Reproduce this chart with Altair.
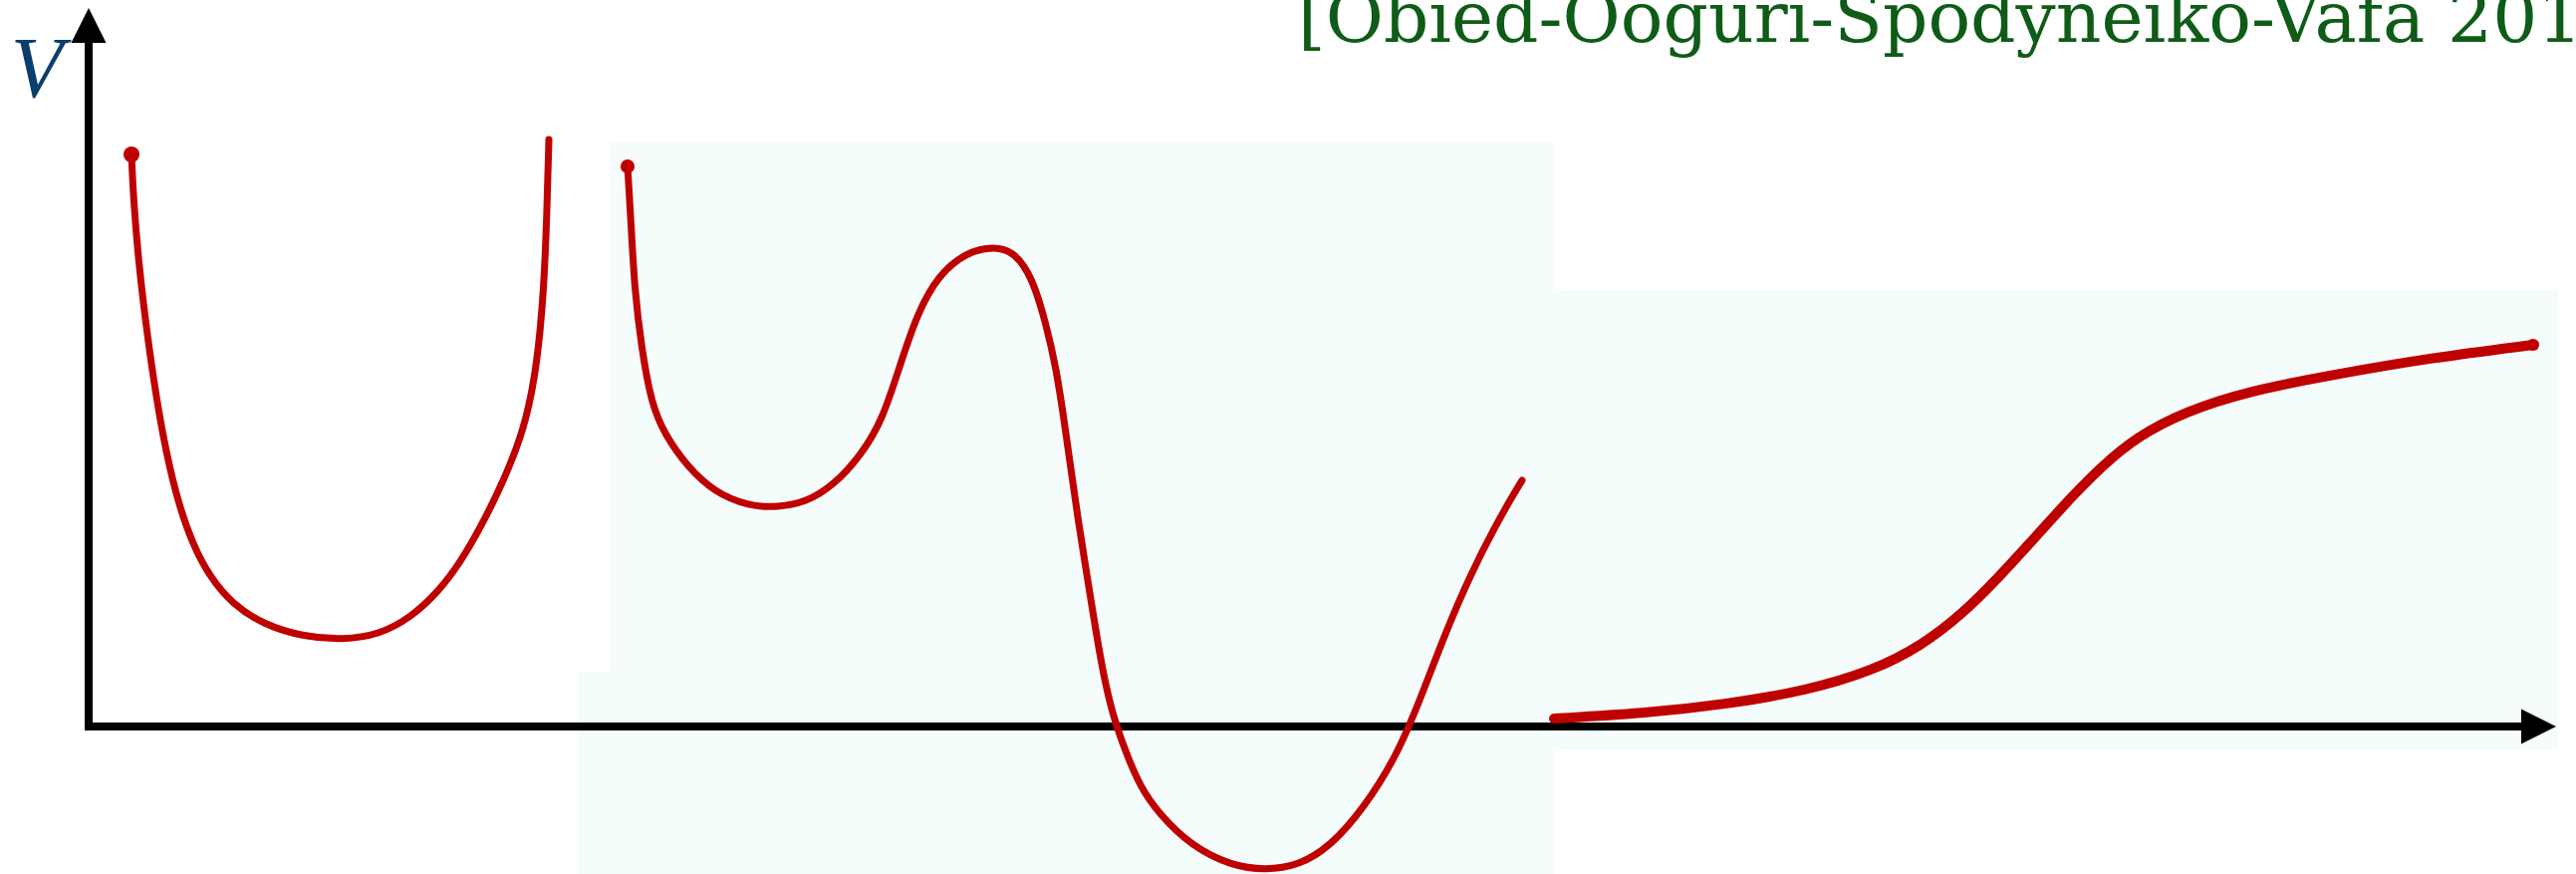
import altair as alt
import pandas as pd

# Sketch of scalar potentials V(phi): a trapped well, a double well with a
# metastable dip and a true minimum below zero, and a runaway slope.
# Coordinates are in canvas units measured from the origin of the axes.

well_x = [43, 45, 50, 58, 68, 78, 90, 104, 121, 144, 176, 216, 256, 291, 323,
          351, 374, 394, 411, 425, 439, 450, 457, 460, 462]
well_v = [574, 529, 467, 399, 329, 274, 224, 184, 151, 123, 102, 90, 87, 92, 109,
          135, 166, 201, 235, 267, 306, 361, 438, 514, 589]

double_x = [541, 544, 548, 555, 565, 579, 600, 628, 663, 692, 720, 748, 776, 797,
            814, 832, 853, 881, 909, 930, 948, 961, 971, 979, 986, 993, 1001,
            1009, 1017, 1025, 1032, 1042, 1056, 1074, 1107, 1148, 1181, 1214,
            1247, 1280, 1313, 1337, 1362, 1387, 1412, 1431, 1439]
double_v = [562, 514, 438, 380, 323, 292, 262, 235, 221, 220, 225, 242, 273, 308,
            361, 415, 453, 476, 482, 476, 449, 404, 361, 309, 259, 209, 159,
            109, 61, 24, 0, -28, -61, -87, -120, -140, -144, -140,
            -120, -82, -30, 28, 94, 152, 201, 234, 247]

runaway_x = [1471, 1560, 1642, 1725, 1791, 1840, 1882, 1915, 1956, 1992, 2022,
             2055, 2104, 2170, 2253, 2352, 2454]
runaway_v = [8, 13, 22, 36, 56, 81, 114, 147, 192, 232, 262,
             290, 316, 337, 353, 370, 383]

# pale panels behind the curves
panel_x = [524, 491, 1471]
panel_x2 = [1471, 524, 2479]
panel_v = [586, 55, 438]
panel_v2 = [-148, -148, -23]

title_text = "[Obied-Ooguri-Spodyneiko-Vafa 2018]"
axis_label = "V"

W, H = 2586, 877
X_DOM = [-89, 2497]
V_DOM = [-148, 729]

RED = "#bf0000"

xs = alt.Scale(domain=X_DOM, nice=False, zero=False)
vs = alt.Scale(domain=V_DOM, nice=False, zero=False)


def X(field):
    return alt.X(field, type="quantitative", scale=xs, axis=None)


def Y(field):
    return alt.Y(field, type="quantitative", scale=vs, axis=None)


def curve(xv, vv, width):
    df = pd.DataFrame({"x": xv, "v": vv, "i": list(range(len(xv)))})
    return alt.Chart(df).mark_line(
        color=RED, interpolate="basis", strokeWidth=width,
        strokeCap="round", strokeJoin="round"
    ).encode(x=X("x"), y=Y("v"), order="i:Q")


def blob(xv, vv, size):
    # ink blot where the brush stroke starts or ends
    df = pd.DataFrame({"x": [xv], "v": [vv]})
    return alt.Chart(df).mark_point(
        shape="circle", size=size, filled=True, color=RED, opacity=1, strokeWidth=0
    ).encode(x=X("x"), y=Y("v"))


panels_df = pd.DataFrame({"x": panel_x, "x2": panel_x2, "v": panel_v, "v2": panel_v2})

panels = alt.Chart(panels_df).mark_rect(color="#f5fcfc", strokeWidth=0).encode(
    x=X("x"), x2="x2", y=Y("v"), y2="v2"
)

# axes with arrow heads
vert_df = pd.DataFrame({"x": [0], "v": [-4], "v2": [686]})
horiz_df = pd.DataFrame({"x": [-4], "x2": [2442], "v": [0]})
up_df = pd.DataFrame({"x": [0], "v": [703.5]})
right_df = pd.DataFrame({"x": [2459.5], "v": [0]})

v_axis = alt.Chart(vert_df).mark_rule(color="black", strokeWidth=8, strokeCap="butt").encode(
    x=X("x"), y=Y("v"), y2="v2"
)
h_axis = alt.Chart(horiz_df).mark_rule(color="black", strokeWidth=8, strokeCap="butt").encode(
    x=X("x"), x2="x2", y=Y("v")
)
head_up = alt.Chart(up_df).mark_point(
    shape="M-1,1L0,-1L1,1Z", size=1225, filled=True, color="black", opacity=1, strokeWidth=0
).encode(x=X("x"), y=Y("v"))
head_right = alt.Chart(right_df).mark_point(
    shape="M-1,-1L1,0L-1,1Z", size=1225, filled=True, color="black", opacity=1, strokeWidth=0
).encode(x=X("x"), y=Y("v"))

well = curve(well_x, well_v, 7)
double = curve(double_x, double_v, 7)
runaway = curve(runaway_x, runaway_v, 10)
blots = [
    blob(well_x[0], well_v[0], 260),
    blob(double_x[0], double_v[0], 200),
    blob(runaway_x[-1], runaway_v[-1], 150),
]

title = alt.Chart(pd.DataFrame({"x": [1214], "v": [687], "t": [title_text]})).mark_text(
    align="left", baseline="alphabetic", font="DejaVu Serif", fontSize=71, color="#0e5c17"
).encode(x=X("x"), y=Y("v"), text="t:N")

vlabel = alt.Chart(pd.DataFrame({"x": [-52], "v": [632], "t": [axis_label]})).mark_text(
    align="center", baseline="alphabetic", font="Liberation Serif", fontStyle="italic",
    fontSize=86, color="#0c3e6c"
).encode(x=X("x"), y=Y("v"), text="t:N")

chart = alt.layer(
    panels, v_axis, h_axis, head_up, head_right, well, double, runaway, *blots, title, vlabel
).properties(
    width=W, height=H, padding=0, autosize="none", background="white"
).configure_view(stroke=None)

chart.save("out.html", embed_options={"renderer": "svg", "actions": False})
